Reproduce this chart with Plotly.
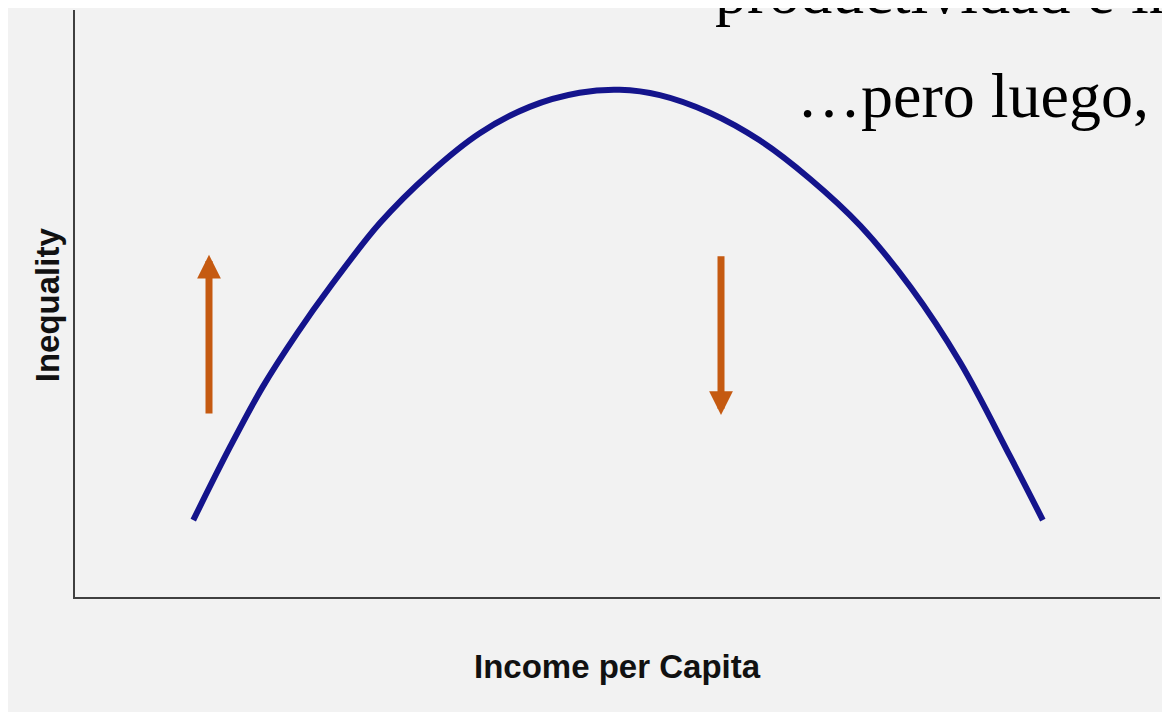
import plotly.graph_objects as go

# Kuznets curve: income per capita vs inequality
income = [1.09, 1.43, 1.73, 2.05, 2.35, 2.81, 3.27, 3.73, 4.19, 4.65, 5.02,
          5.39, 5.85, 6.31, 6.77, 7.24, 7.70, 8.16, 8.62, 8.92]
inequality = [1.31, 2.56, 3.58, 4.50, 5.28, 6.37, 7.22, 7.90, 8.35, 8.59, 8.64,
              8.55, 8.25, 7.78, 7.13, 6.32, 5.28, 3.99, 2.39, 1.31]

# direction arrows: rising then falling inequality
arrow_x = [1.235, 5.954]
arrow_tail_y = [3.10, 5.83]
arrow_tip_y = [5.83, 3.10]

text_lines = ["productividad e ingreso", "\u2026pero luego, cae"]

CURVE_COLOR = "#14148c"
ARROW_COLOR = "#c55a11"
AXIS_COLOR = "#404040"
BG = "#f2f2f2"

fig = go.Figure()

fig.add_trace(
    go.Scatter(
        x=income,
        y=inequality,
        mode="lines",
        line={"color": CURVE_COLOR, "width": 6, "shape": "spline", "smoothing": 1.0},
        hoverinfo="skip",
        showlegend=False,
    )
)

annotations = []
for x, y0, y1 in zip(arrow_x, arrow_tail_y, arrow_tip_y):
    annotations.append(
        dict(
            x=x, y=y1, ax=x, ay=y0,
            xref="x", yref="y", axref="x", ayref="y",
            showarrow=True, arrowhead=2, arrowsize=0.68, arrowwidth=7,
            arrowcolor=ARROW_COLOR, text="",
        )
    )

serif = {"family": "Liberation Serif, Times New Roman, serif", "size": 64, "color": "black"}
annotations.append(
    dict(x=0.588, y=1.031, xref="paper", yref="paper", xanchor="left", yanchor="middle",
         text=text_lines[0], showarrow=False, font=serif)
)
annotations.append(
    dict(x=0.6636, y=0.855, xref="paper", yref="paper", xanchor="left", yanchor="middle",
         text=text_lines[1], showarrow=False, font=serif)
)

sans = {"family": "Liberation Sans, Arial, sans-serif", "size": 33, "color": "#111111"}
annotations.append(
    dict(x=0.5, y=-0.119, xref="paper", yref="paper", xanchor="center", yanchor="middle",
         text="<b>Income per Capita</b>", showarrow=False, font=sans)
)
annotations.append(
    dict(x=-0.0258, y=0.497, xref="paper", yref="paper", xanchor="center", yanchor="middle",
         text="<b>Inequality</b>", textangle=-90, showarrow=False, font=sans)
)

fig.update_xaxes(
    range=[0, 10], showline=True, linecolor=AXIS_COLOR, linewidth=1.5,
    showgrid=False, zeroline=False, showticklabels=False, ticks="",
)
fig.update_yaxes(
    range=[0, 10], showline=True, linecolor=AXIS_COLOR, linewidth=1.5,
    showgrid=False, zeroline=False, showticklabels=False, ticks="",
)

# the page body keeps an 8px margin, so the figure is 8px smaller each way
fig.update_layout(
    width=1162,
    height=704,
    margin={"l": 67, "r": 10, "t": 2, "b": 115},
    paper_bgcolor=BG,
    plot_bgcolor=BG,
    annotations=annotations,
    showlegend=False,
)

fig.write_html("out.html")
